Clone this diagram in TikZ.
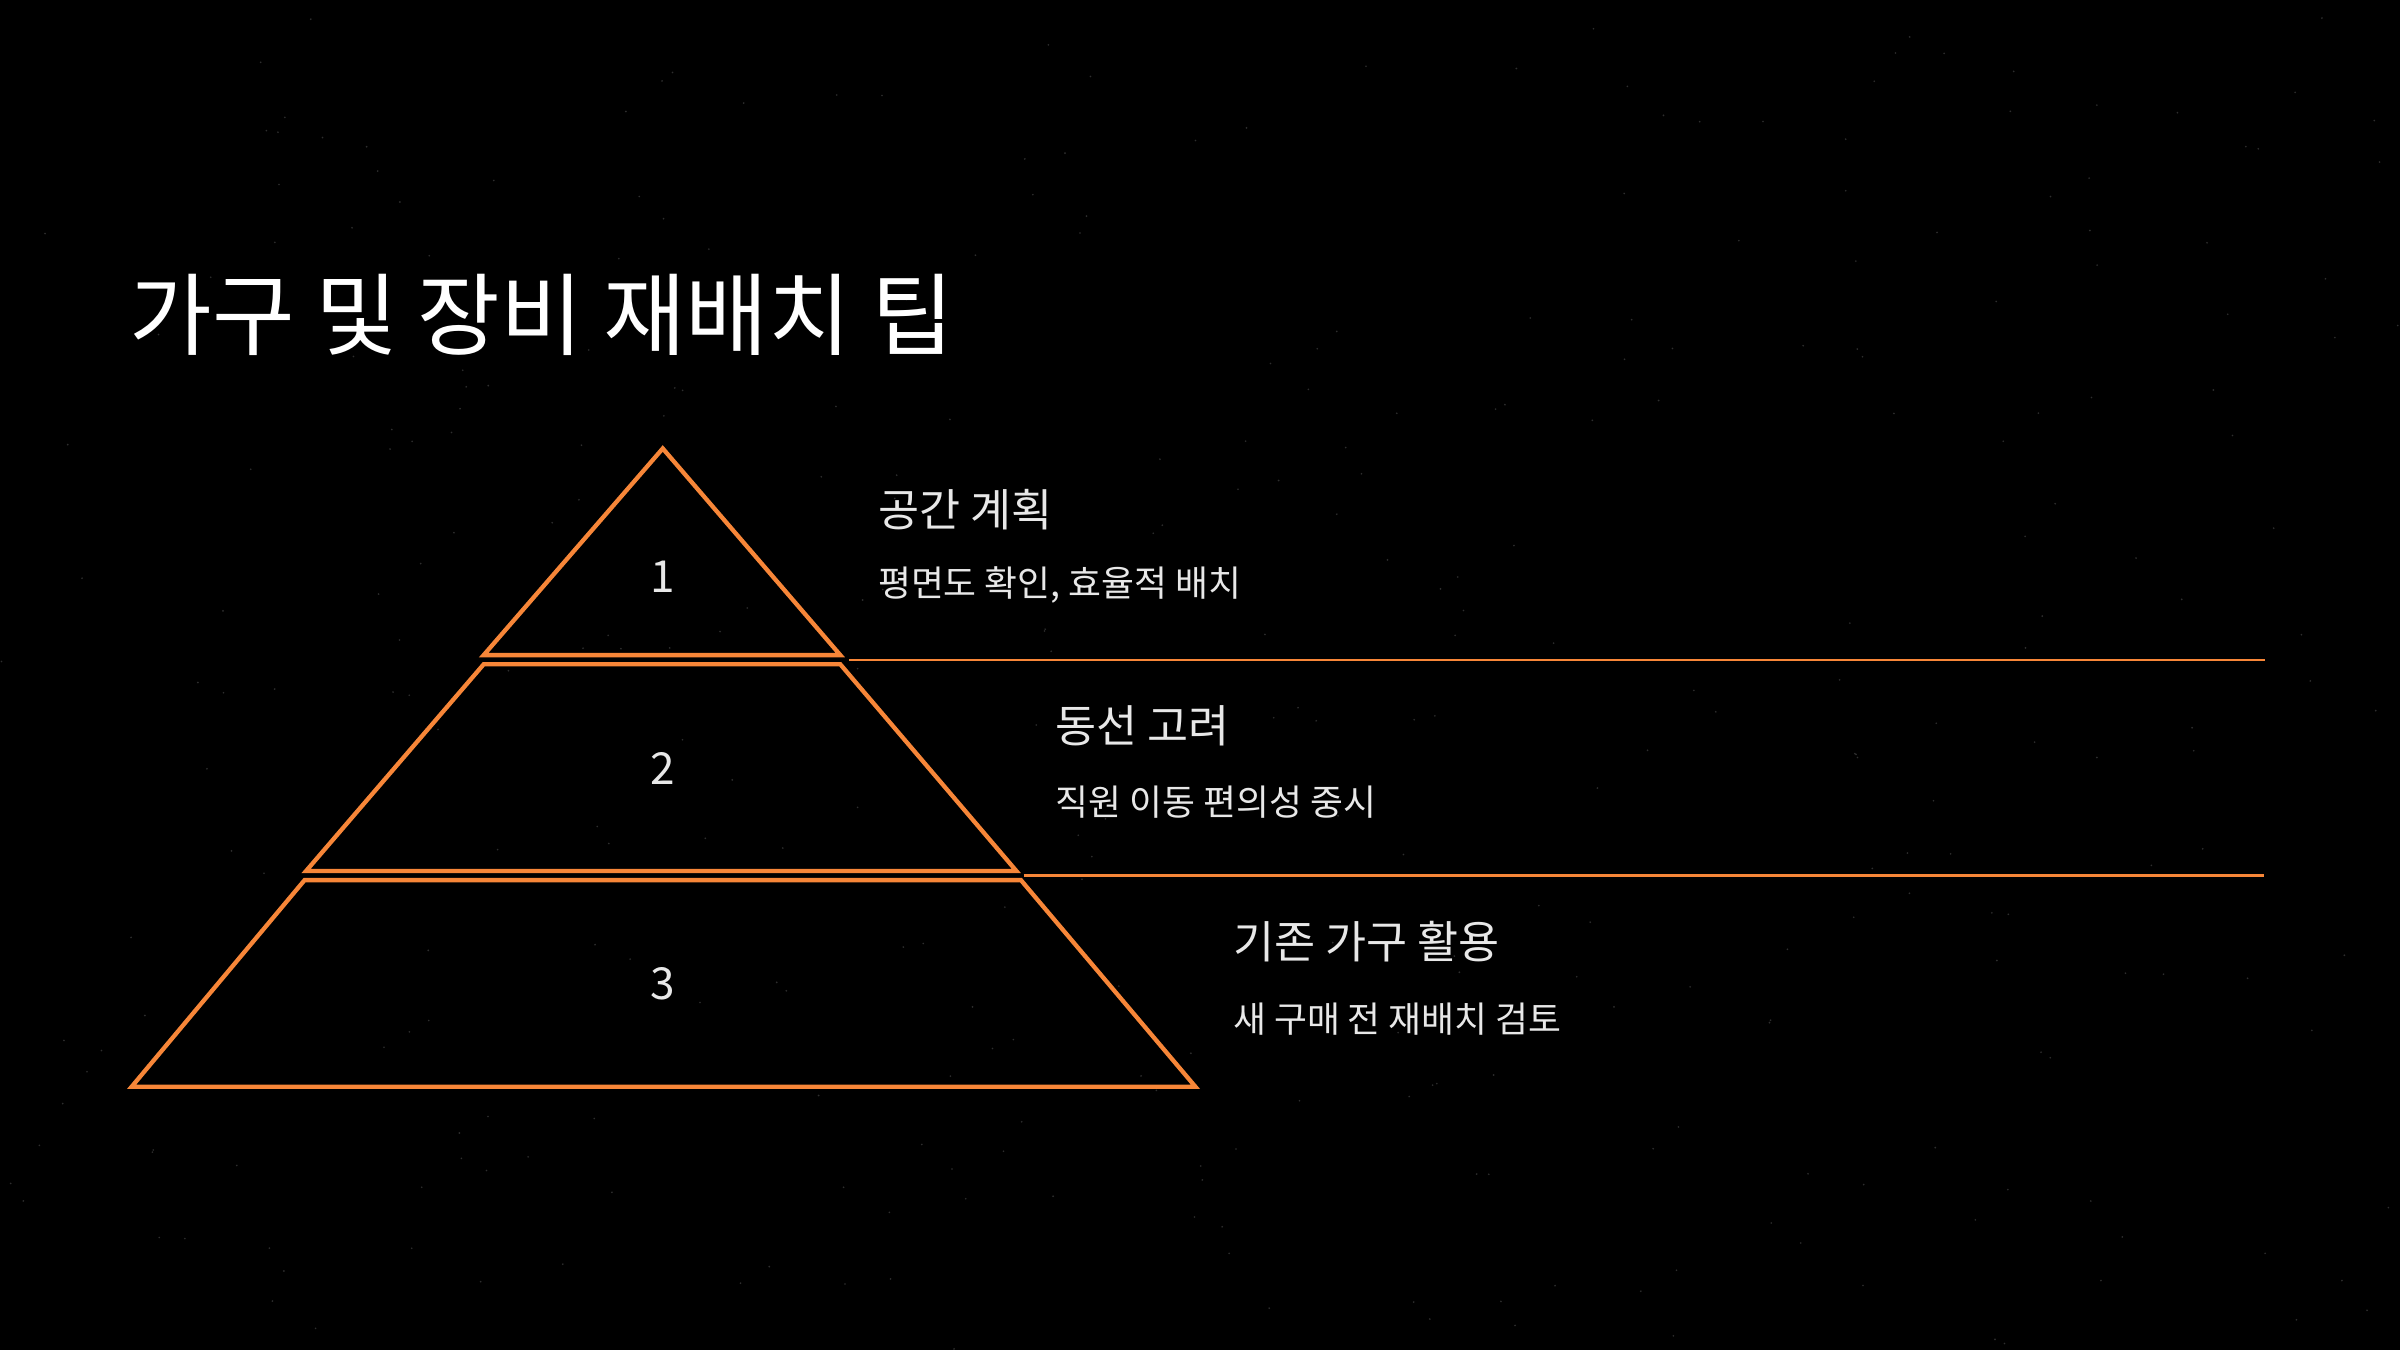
\documentclass[tikz,border=0pt]{standalone}
\usepackage{fontspec}
\setmainfont{Noto Sans CJK KR}
\usetikzlibrary{positioning}

\definecolor{tierorange}{RGB}{247,134,56}
\definecolor{labelgray}{RGB}{232,232,232}

\begin{document}
\begin{tikzpicture}[x=0.1mm, y=-0.1mm,
    tier/.style={draw=tierorange, line width=0.8pt, line join=miter},
    rule/.style={draw=tierorange, line width=0.4pt},
    head/.style={anchor=west, inner sep=0pt, text=labelgray, font=\fontsize{8.3}{10}\selectfont},
    sub/.style={anchor=west, inner sep=0pt, text=labelgray, font=\fontsize{6.65}{8}\selectfont},
    num/.style={inner sep=0pt, text=labelgray, font=\fontsize{8.2}{9}\selectfont}]

    % Background
    \fill[black] (0,0) rectangle (1568,882);
    \useasboundingbox (0,0) rectangle (1568,882);
    \pgfmathsetseed{17}
    \foreach \k in {1,...,350}
        \fill[white, opacity=0.18] ({rnd*1568},{rnd*882}) circle (0.6);

    % Title
    \node[anchor=west, inner sep=0pt, text=white, font=\fontsize{16.7}{19}\selectfont] (title) at (84,206) {가구 및 장비 재배치 팁};

    % Define the tiers of the pyramid
    \draw[tier] (433,293) -- (549,428) -- (316,428) -- cycle;
    \draw[tier] (316,434) -- (549,434) -- (664,569) -- (200,569) -- cycle;
    \draw[tier] (199,575) -- (667,575) -- (781,710) -- (86,710) -- cycle;

    \node[num] (n1) at (433,377) {1};
    \node[num] (n2) at (433,502) {2};
    \node[num] (n3) at (433,643) {3};

    % Labels beside the tiers
    \node[head] (h1) at (573,333) {공간 계획};
    \node[sub]  (s1) at (573,382) {평면도 확인, 효율적 배치};
    \node[head] (h2) at (689,474) {동선 고려};
    \node[sub]  (s2) at (689,524) {직원 이동 편의성 중시};
    \node[head] (h3) at (805,615) {기존 가구 활용};
    \node[sub]  (s3) at (805,666) {새 구매 전 재배치 검토};

    % Draw the separators
    \coordinate (r1a) at (555,431);
    \coordinate (r1b) at (1480,431);
    \coordinate (r2a) at (669,572);
    \coordinate (r2b) at (1479,572);
    \draw[rule] (r1a) -- (r1b);
    \draw[rule] (r2a) -- (r2b);
\end{tikzpicture}
\end{document}
